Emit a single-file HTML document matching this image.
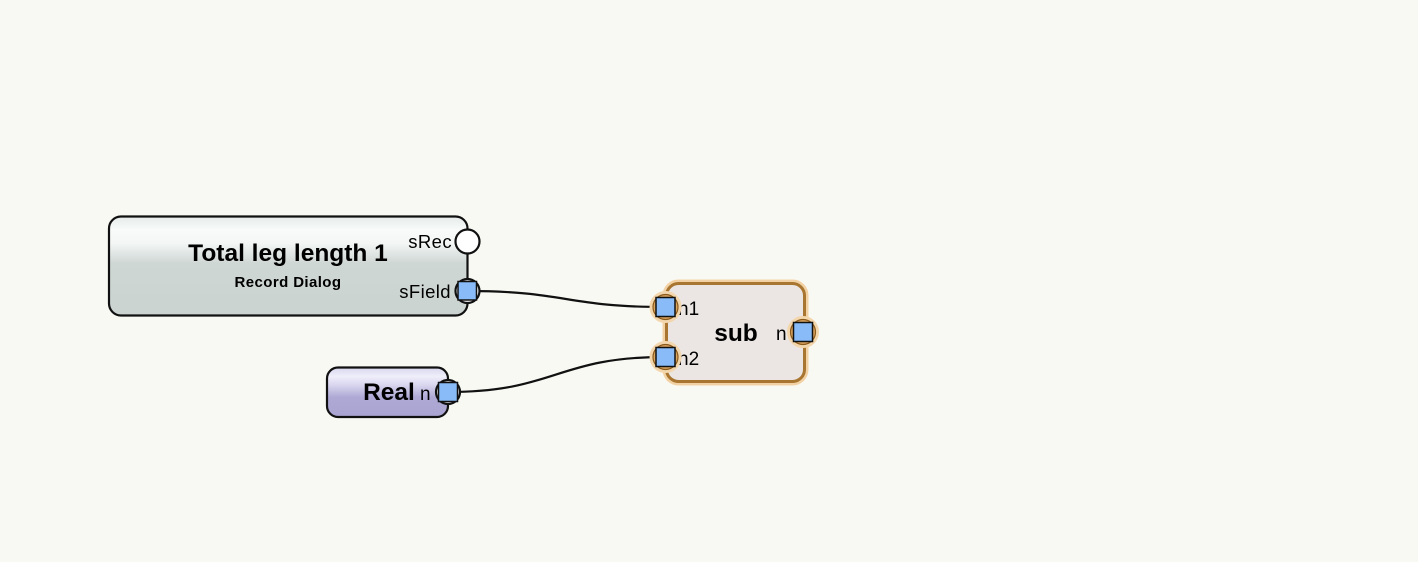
<!DOCTYPE html>
<html>
<head>
<meta charset="utf-8">
<style>
  html, body { margin: 0; padding: 0; }
  body { width: 1418px; height: 562px; background: #f9f9f4; overflow: hidden; }
  svg { display: block; }
  text { font-family: "Liberation Sans", Arial, sans-serif; fill: #000; }
</style>
</head>
<body>
<svg width="1418" height="562" viewBox="0 0 1418 562" xmlns="http://www.w3.org/2000/svg">
  <defs>
    <linearGradient id="g1" x1="0" y1="0" x2="0" y2="1">
      <stop offset="0" stop-color="#e6eceb"/>
      <stop offset="0.14" stop-color="#f8fbfa"/>
      <stop offset="0.27" stop-color="#f3f6f5"/>
      <stop offset="0.47" stop-color="#cfd7d5"/>
      <stop offset="1" stop-color="#cbd3d1"/>
    </linearGradient>
    <linearGradient id="g2" x1="0" y1="0" x2="0" y2="1">
      <stop offset="0" stop-color="#d9d7ee"/>
      <stop offset="0.18" stop-color="#efeefa"/>
      <stop offset="0.35" stop-color="#d9d6ef"/>
      <stop offset="0.6" stop-color="#aea9d4"/>
      <stop offset="1" stop-color="#a9a4d1"/>
    </linearGradient>
  </defs>

  <!-- connectors -->
  <path d="M 467 291 C 566 291, 566 307, 665 307" fill="none" stroke="#111" stroke-width="2.2"/>
  <path d="M 448 392 C 556 392, 556 357, 665 357" fill="none" stroke="#111" stroke-width="2.2"/>

  <!-- Node 1: Total leg length 1 -->
  <rect x="109" y="216.5" width="358.5" height="99" rx="12" ry="12" fill="url(#g1)" stroke="#111" stroke-width="2.2"/>
  <text x="288" y="261" font-size="24.5" font-weight="bold" text-anchor="middle">Total leg length 1</text>
  <text x="288" y="287" font-size="15" font-weight="bold" text-anchor="middle" letter-spacing="0.4">Record Dialog</text>
  <text x="452" y="248" font-size="18.5" text-anchor="end" letter-spacing="0.4">sRec</text>
  <text x="451" y="298" font-size="18.5" text-anchor="end" letter-spacing="0.4">sField</text>
  <!-- sRec port -->
  <circle cx="467.5" cy="241.5" r="12" fill="#fff" stroke="#111" stroke-width="2.2"/>
  <!-- sField port -->
  <circle cx="467.5" cy="291" r="12" fill="#fff" stroke="#111" stroke-width="2.2"/>
  <rect x="458" y="281.5" width="18.5" height="18.5" fill="#88bbf7" stroke="#111" stroke-width="1.5"/>

  <!-- Node 2: Real -->
  <rect x="327" y="367.5" width="121" height="49.5" rx="11" ry="11" fill="url(#g2)" stroke="#111" stroke-width="2.2"/>
  <text x="389" y="400" font-size="24.5" font-weight="bold" text-anchor="middle">Real</text>
  <text x="420" y="400" font-size="19">n</text>
  <circle cx="448" cy="392" r="12" fill="#fff" stroke="#111" stroke-width="2.2"/>
  <rect x="438.5" y="382.5" width="19" height="19" fill="#88bbf7" stroke="#111" stroke-width="1.5"/>

  <!-- Node 3: sub (selected) -->
  <rect x="666.5" y="283.5" width="138" height="98" rx="12" ry="12" fill="none" stroke="#f2d2a4" stroke-width="8"/>
  <rect x="666.5" y="283.5" width="138" height="98" rx="12" ry="12" fill="#ebe6e3" stroke="#a87630" stroke-width="3"/>
  <text x="736" y="341" font-size="24.5" font-weight="bold" text-anchor="middle">sub</text>
  <text x="678" y="315" font-size="19">n1</text>
  <text x="678" y="365" font-size="19">n2</text>
  <text x="776" y="340" font-size="19">n</text>

  <!-- sub ports -->
  <g>
    <circle cx="665.5" cy="307" r="14.5" fill="#f0cb98" stroke="#f3d6ac" stroke-width="3"/>
    <circle cx="665.5" cy="307" r="12.5" fill="#dca560" stroke="#8a5a1c" stroke-width="1.2"/>
    <rect x="656" y="297.5" width="19" height="19" fill="#88bbf7" stroke="#111" stroke-width="1.5"/>

    <circle cx="665.5" cy="357" r="14.5" fill="#f0cb98" stroke="#f3d6ac" stroke-width="3"/>
    <circle cx="665.5" cy="357" r="12.5" fill="#dca560" stroke="#8a5a1c" stroke-width="1.2"/>
    <rect x="656" y="347.5" width="19" height="19" fill="#88bbf7" stroke="#111" stroke-width="1.5"/>

    <circle cx="803" cy="332" r="14.5" fill="#f0cb98" stroke="#f3d6ac" stroke-width="3"/>
    <circle cx="803" cy="332" r="12.5" fill="#dca560" stroke="#8a5a1c" stroke-width="1.2"/>
    <rect x="793.5" y="322.5" width="19" height="19" fill="#88bbf7" stroke="#111" stroke-width="1.5"/>
  </g>
</svg>
</body>
</html>
